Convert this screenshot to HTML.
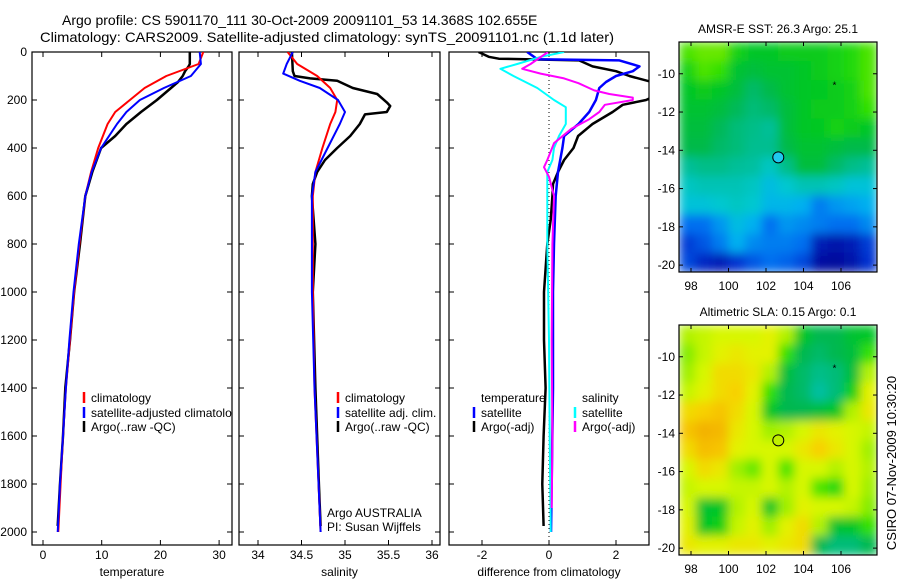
<!DOCTYPE html>
<html><head><meta charset="utf-8"><style>
html,body{margin:0;padding:0;background:#fff;}
svg{display:block;font-family:"Liberation Sans",sans-serif;}
text{fill:#000;}
</style></head><body>
<svg id="fig" width="900" height="580" viewBox="0 0 900 580" xmlns="http://www.w3.org/2000/svg">
<defs>
<filter id="smooth" x="0" y="0" width="1" height="1" filterUnits="objectBoundingBox">
<feGaussianBlur stdDeviation="5" edgeMode="duplicate"/>
</filter>
</defs>
<text x="62" y="25" font-size="14">Argo profile: CS 5901170_111 30-Oct-2009 20091101_53 14.368S 102.655E</text>
<text x="40" y="42" font-size="14" textLength="574" lengthAdjust="spacingAndGlyphs">Climatology: CARS2009. Satellite-adjusted climatology: synTS_20091101.nc (1.1d later)</text>
<text transform="translate(896,463) rotate(-90)" text-anchor="middle" font-size="13">CSIRO 07-Nov-2009 10:30:20</text>
</svg>
<script>
// ---------- profile data ----------
const argoTDepth = [0,10,50,60,80,100,125,150,200,250,300,350,400,500,600,800,1000,1200,1400,1600,1800,1975];
const argoT = [25.0,25.0,25.0,24.8,24.2,23.8,23.0,21.8,19.4,16.7,14.2,12.3,9.9,8.4,7.2,6.3,5.3,4.6,3.8,3.4,2.9,2.5];
const climDepth = [0,50,100,150,200,250,300,400,500,600,800,1000,1200,1400,1600,1800,2000];
const climT = [27.3,26.5,21.0,17.3,14.8,12.3,11.0,9.4,8.2,7.2,6.2,5.3,4.6,3.9,3.4,3.0,2.6];
const satT = [26.7,26.9,25.2,20.6,16.5,14.2,12.6,9.9,8.3,7.2,6.1,5.2,4.5,3.9,3.4,2.9,2.5];

const argoSDepth = [0,80,100,110,120,150,175,210,225,250,260,300,350,400,450,500,550,600,800,1000,1400,1800,1975];
const argoS = [34.39,34.40,34.42,34.6,34.91,35.09,35.37,35.48,35.52,35.48,35.23,35.17,35.06,34.91,34.77,34.68,34.63,34.62,34.66,34.63,34.66,34.70,34.72];
const climSDepth = [0,50,100,150,200,250,300,400,500,600,1000,1400,2000];
const climS = [34.34,34.45,34.68,34.83,34.91,34.89,34.83,34.74,34.66,34.63,34.63,34.65,34.72];
const satSDepth = [0,50,90,120,150,200,250,300,400,500,600,1000,1400,2000];
const satS = [34.40,34.33,34.29,34.48,34.71,34.92,35.0,34.94,34.80,34.66,34.62,34.62,34.65,34.72];

const dTArgoDepth = [0,20,28,35,60,80,100,130,180,200,220,250,300,350,400,450,500,550,600,700,800,1000,1200,1400,1600,1800,1975];
const dTArgo = [-2.1,-1.8,-1.5,0.9,1.3,2.0,2.4,3.2,3.2,2.9,2.2,1.9,1.3,0.87,0.73,0.45,0.27,0.12,0.1,0.05,-0.05,-0.15,-0.15,-0.1,-0.16,-0.2,-0.16];
const dTSatDepth = [0,30,35,60,80,100,125,150,200,250,300,350,400,500,600,800,1000,1400,1800,2000];
const dTSat = [-0.65,-0.35,2.1,2.7,2.5,2.0,1.7,1.5,1.4,1.2,0.88,0.45,0.4,0.27,0.2,0.15,0.12,0.12,0.08,0.06];
const dSSatDepth = [0,20,50,70,100,150,200,230,300,350,400,450,500,800,1200,1600,2000];
const dSSat = [0.45,-0.24,-0.95,-1.45,-1.06,-0.35,0.15,0.5,0.5,0.3,0.15,0.1,-0.05,-0.05,0.0,0.02,0.05];
const dSArgoDepth = [0,50,70,90,110,130,160,175,190,200,220,250,280,320,380,450,480,520,600,800,1200,1600,1900];
const dSArgo = [-0.03,-0.55,-0.8,-0.25,0.45,0.88,1.35,1.8,2.5,2.5,1.67,1.5,1.2,0.67,0.15,-0.05,-0.15,0.0,0.15,0.1,0.08,0.1,0.08];

const depthTicks = [0,200,400,600,800,1000,1200,1400,1600,1800,2000];
const tempTicks = [0,10,20,30];
const salTicks = [34,34.5,35,35.5,36];
const diffTicks = [-2,0,2];

// ---------- map data (12 x 12 grids, normalised colour values) ----------
const sstGrid = [
[0.72,0.74,0.74,0.66,0.62,0.62,0.64,0.64,0.64,0.66,0.68,0.72],
[0.66,0.72,0.70,0.60,0.58,0.60,0.60,0.62,0.64,0.66,0.68,0.72],
[0.62,0.64,0.62,0.58,0.52,0.56,0.60,0.62,0.63,0.64,0.66,0.72],
[0.60,0.60,0.58,0.54,0.50,0.52,0.58,0.62,0.64,0.64,0.66,0.70],
[0.58,0.58,0.54,0.50,0.48,0.46,0.58,0.62,0.63,0.66,0.64,0.62],
[0.56,0.56,0.52,0.50,0.47,0.47,0.56,0.60,0.60,0.58,0.56,0.56],
[0.46,0.48,0.48,0.46,0.45,0.40,0.48,0.58,0.58,0.52,0.48,0.46],
[0.40,0.42,0.42,0.42,0.40,0.34,0.38,0.42,0.42,0.40,0.36,0.36],
[0.36,0.36,0.38,0.40,0.38,0.32,0.32,0.30,0.22,0.26,0.28,0.30],
[0.20,0.20,0.26,0.34,0.30,0.20,0.26,0.24,0.22,0.20,0.20,0.24],
[0.12,0.16,0.22,0.30,0.24,0.22,0.22,0.20,0.06,0.04,0.06,0.12],
[0.14,0.08,0.06,0.10,0.16,0.20,0.18,0.14,0.03,0.02,0.04,0.10]];
const slaGrid = [
[0.80,0.82,0.84,0.84,0.84,0.86,0.80,0.62,0.55,0.55,0.60,0.62],
[0.76,0.82,0.86,0.88,0.86,0.86,0.70,0.55,0.52,0.55,0.58,0.70],
[0.78,0.84,0.90,0.90,0.88,0.80,0.58,0.52,0.48,0.50,0.58,0.80],
[0.82,0.86,0.90,0.92,0.86,0.70,0.55,0.52,0.45,0.50,0.65,0.86],
[0.90,0.92,0.94,0.90,0.84,0.62,0.55,0.55,0.58,0.62,0.80,0.88],
[0.94,0.97,0.96,0.88,0.84,0.78,0.80,0.84,0.88,0.86,0.84,0.82],
[0.90,0.95,0.94,0.86,0.84,0.84,0.84,0.88,0.92,0.88,0.84,0.78],
[0.84,0.90,0.88,0.78,0.74,0.84,0.72,0.84,0.84,0.80,0.84,0.80],
[0.82,0.84,0.84,0.82,0.82,0.84,0.80,0.84,0.72,0.68,0.84,0.78],
[0.84,0.60,0.62,0.80,0.84,0.62,0.78,0.86,0.84,0.84,0.82,0.76],
[0.86,0.62,0.65,0.82,0.86,0.78,0.86,0.90,0.80,0.60,0.62,0.70],
[0.88,0.86,0.86,0.88,0.88,0.86,0.88,0.90,0.55,0.50,0.50,0.55]];
const lonTicks = [98,100,102,104,106];
const latTicks = [-10,-12,-14,-16,-18,-20];
const floatPos = [102.655,-14.368];
const starPos = [105.65,-10.5];

const NS = "http://www.w3.org/2000/svg";
const svg = document.getElementById('fig');
function mk(tag, attrs, parent){ const e=document.createElementNS(NS,tag); for(const k in attrs) e.setAttribute(k,attrs[k]); (parent||svg).appendChild(e); return e; }

const Y0 = 52, YS = 0.24, YBOT = 545;
const yDepth = d => Y0 + d*YS;

const panels = [
 {name:'temperature', x0:32, x1:232, ticks:tempTicks, label:'temperature', v0:0, p0:43, scale:5.87},
 {name:'salinity', x0:239, x1:440, ticks:salTicks, label:'salinity', v0:34, p0:258, scale:87},
 {name:'difference', x0:449, x1:649, ticks:diffTicks, label:'difference from climatology', v0:0, p0:549, scale:33.5}
];
panels.forEach(p => { p.xf = v => p.p0 + (v-p.v0)*p.scale; });

panels.forEach((p,i) => {
  const g = mk('g',{});
  
  
  const cp = mk('clipPath',{id:'clip'+i}, g);
  mk('rect',{x:p.x0,y:Y0,width:p.x1-p.x0,height:YBOT-Y0},cp);
  const fr = mk('rect',{x:p.x0,y:Y0,width:p.x1-p.x0,height:YBOT-Y0,fill:'none',stroke:'#000','stroke-width':1.2},g);
  
  
  p.ticks.forEach(t => {
    const x = p.xf(t);
    mk('line',{x1:x,x2:x,y1:YBOT,y2:YBOT-5,stroke:'#000'},g);
    mk('line',{x1:x,x2:x,y1:Y0,y2:Y0+5,stroke:'#000'},g);
    const tx = mk('text',{x:x,y:559,'font-size':12,'text-anchor':'middle'},g);
    tx.textContent = t;
    
    
  });
  depthTicks.forEach(d => {
    const y = yDepth(d);
    mk('line',{x1:p.x0,x2:p.x0+5,y1:y,y2:y,stroke:'#000'},g);
    mk('line',{x1:p.x1,x2:p.x1-5,y1:y,y2:y,stroke:'#000'},g);
    if(i===0){
      const tx = mk('text',{x:27,y:y+4,'font-size':12,'text-anchor':'end'},g);
      tx.textContent = d;
      
      
    }
  });
  const xl = mk('text',{x:(p.x0+p.x1)/2,y:576,'font-size':12,'text-anchor':'middle'},g);
  xl.textContent = p.label;
  
  
  p.g = g;
});

function line(pi, depths, vals, color, w, name){
  const p = panels[pi];
  const pts = depths.map((d,k)=> p.xf(vals[k]).toFixed(1)+','+yDepth(d).toFixed(1)).join(' ');
  const el = mk('polyline',{points:pts,fill:'none',stroke:color,'stroke-width':w,'clip-path':'url(#clip'+pi+')','stroke-linejoin':'round'},p.g);
  
  
}
const zl = mk('line',{x1:panels[2].xf(0),x2:panels[2].xf(0),y1:Y0,y2:YBOT,stroke:'#000','stroke-dasharray':'1,3'},panels[2].g);



line(0, argoTDepth, argoT, '#000', 2.5, 'argo-temperature-line');
line(0, climDepth, climT, '#f00', 2, 'climatology-temperature-line');
line(0, climDepth, satT, '#00f', 2, 'satellite-temperature-line');
line(1, argoSDepth, argoS, '#000', 2.5, 'argo-salinity-line');
line(1, climSDepth, climS, '#f00', 2, 'climatology-salinity-line');
line(1, satSDepth, satS, '#00f', 2, 'satellite-salinity-line');
line(2, dTArgoDepth, dTArgo, '#000', 2.5, 'argo-temperature-difference-line');
line(2, dTSatDepth, dTSat, '#00f', 2.5, 'satellite-temperature-difference-line');
line(2, dSSatDepth, dSSat, '#0ff', 2, 'satellite-salinity-difference-line');
line(2, dSArgoDepth, dSArgo, '#f0f', 2, 'argo-salinity-difference-line');

function legend(pi, x, y, color, label, name){
  const g = mk('g',{'clip-path':'url(#clip'+pi+')'},panels[pi].g);
  
  
  if(color) mk('line',{x1:x,x2:x,y1:y-10,y2:y+1,stroke:color,'stroke-width':2.5},g);
  const t = mk('text',{x:x+7,y:y,'font-size':12},g);
  t.textContent = label;
}
legend(0,84,402,'#f00','climatology','legend-climatology');
legend(0,84,417,'#00f','satellite-adjusted climatology','legend-satellite');
legend(0,84,431,'#000','Argo(..raw -QC)','legend-argo');
legend(1,338,402,'#f00','climatology','legend-climatology');
legend(1,338,417,'#00f','satellite adj. clim.','legend-satellite');
legend(1,338,431,'#000','Argo(..raw -QC)','legend-argo');
legend(2,474,402,null,'temperature','legend-temperature-header');
legend(2,474,417,'#00f','satellite','legend-temperature-satellite');
legend(2,474,431,'#000','Argo(-adj)','legend-temperature-argo');
legend(2,575,402,null,'salinity','legend-salinity-header');
legend(2,575,417,'#0ff','satellite','legend-salinity-satellite');
legend(2,575,431,'#f0f','Argo(-adj)','legend-salinity-argo');
{
  const t1 = mk('text',{x:327,y:517,'font-size':12},panels[1].g); t1.textContent='Argo AUSTRALIA';
   
  const t2 = mk('text',{x:327,y:531,'font-size':12},panels[1].g); t2.textContent='PI: Susan Wijffels';
   
}

// ---------- maps ----------
const stops = [[0,'#000090'],[0.1,'#0030d0'],[0.2,'#0070f0'],[0.3,'#00b0f0'],[0.38,'#00c8d0'],[0.45,'#00c0a0'],[0.55,'#00b850'],[0.63,'#00c820'],[0.7,'#30e000'],[0.78,'#a0f000'],[0.85,'#e0f800'],[0.92,'#f8d000'],[1,'#f0a000']];
function hex(h){return [1,3,5].map(i=>parseInt(h.substr(i,2),16));}
function cmap(v){
  v=Math.max(0,Math.min(1,v));
  for(let i=1;i<stops.length;i++){ if(v<=stops[i][0]){ const a=stops[i-1],b=stops[i],f=(v-a[0])/(b[0]-a[0]); const ca=hex(a[1]),cb=hex(b[1]); return 'rgb('+ca.map((c,k)=>Math.round(c+(cb[k]-c)*f)).join(',')+')'; } }
  return stops[stops.length-1][1];
}
const LON0=97.36, LON1=107.92, LAT0=-8.34, LAT1=-20.36;
function drawMap(top, grid, title, name, circleFill, idx){
  const L=679,R=877,B=top+230;
  const xf = lon => L + (lon-LON0)/(LON1-LON0)*(R-L);
  const yf = lat => top + (lat-LAT0)/(LAT1-LAT0)*(B-top);
  const g = mk('g',{});
  
  
  const cp = mk('clipPath',{id:'mclip'+idx}, g);
  mk('rect',{x:L,y:top,width:R-L,height:B-top},cp);
  const clipG = mk('g',{'clip-path':'url(#mclip'+idx+')'},g);
  const cells = mk('g',{filter:'url(#smooth)'},clipG);
  const rows=grid.length, cols=grid[0].length;
  const dLon=(LON1-LON0)/cols, dLat=(LAT1-LAT0)/rows;
  grid.forEach((row,r)=>row.forEach((v,c)=>{
    const x=xf(LON0+c*dLon), y=yf(LAT0+r*dLat);
    const cell = mk('rect',{x:x.toFixed(2),y:y.toFixed(2),width:(xf(LON0+(c+1)*dLon)-x+0.6).toFixed(2),height:(yf(LAT0+(r+1)*dLat)-y+0.6).toFixed(2),fill:cmap(v)},cells);
    
    
  }));
  mk('rect',{x:L,y:top,width:R-L,height:B-top,fill:'none',stroke:'#000','stroke-width':1.2},g);
  lonTicks.forEach(t=>{ const x=xf(t);
    mk('line',{x1:x,x2:x,y1:B,y2:B-4,stroke:'#000'},g); mk('line',{x1:x,x2:x,y1:top,y2:top+4,stroke:'#000'},g);
    const tx=mk('text',{x:x,y:B+18,'font-size':12,'text-anchor':'middle'},g); tx.textContent=t;
      });
  latTicks.forEach(t=>{ const y=yf(t);
    mk('line',{x1:L,x2:L+4,y1:y,y2:y,stroke:'#000'},g); mk('line',{x1:R,x2:R-4,y1:y,y2:y,stroke:'#000'},g);
    const tx=mk('text',{x:L-4,y:y+4,'font-size':12,'text-anchor':'end'},g); tx.textContent=t;
      });
  const c=mk('circle',{cx:xf(floatPos[0]),cy:yf(floatPos[1]),r:5.5,fill:circleFill,stroke:'#000','stroke-width':1},g);
   
  const s=mk('text',{x:xf(starPos[0]),y:yf(starPos[1])+5,'font-size':10,'text-anchor':'middle'},g); s.textContent='*';
   
  const tt=mk('text',{x:(L+R)/2,y:top-9,'font-size':12,'text-anchor':'middle'},g); tt.textContent=title;
   
}
drawMap(42, sstGrid, 'AMSR-E SST: 26.3 Argo: 25.1', 'sst-map', '#20c8f0', 0);
drawMap(325, slaGrid, 'Altimetric SLA: 0.15 Argo: 0.1', 'sla-map', '#c0f000', 1);
</script>
</body></html>
